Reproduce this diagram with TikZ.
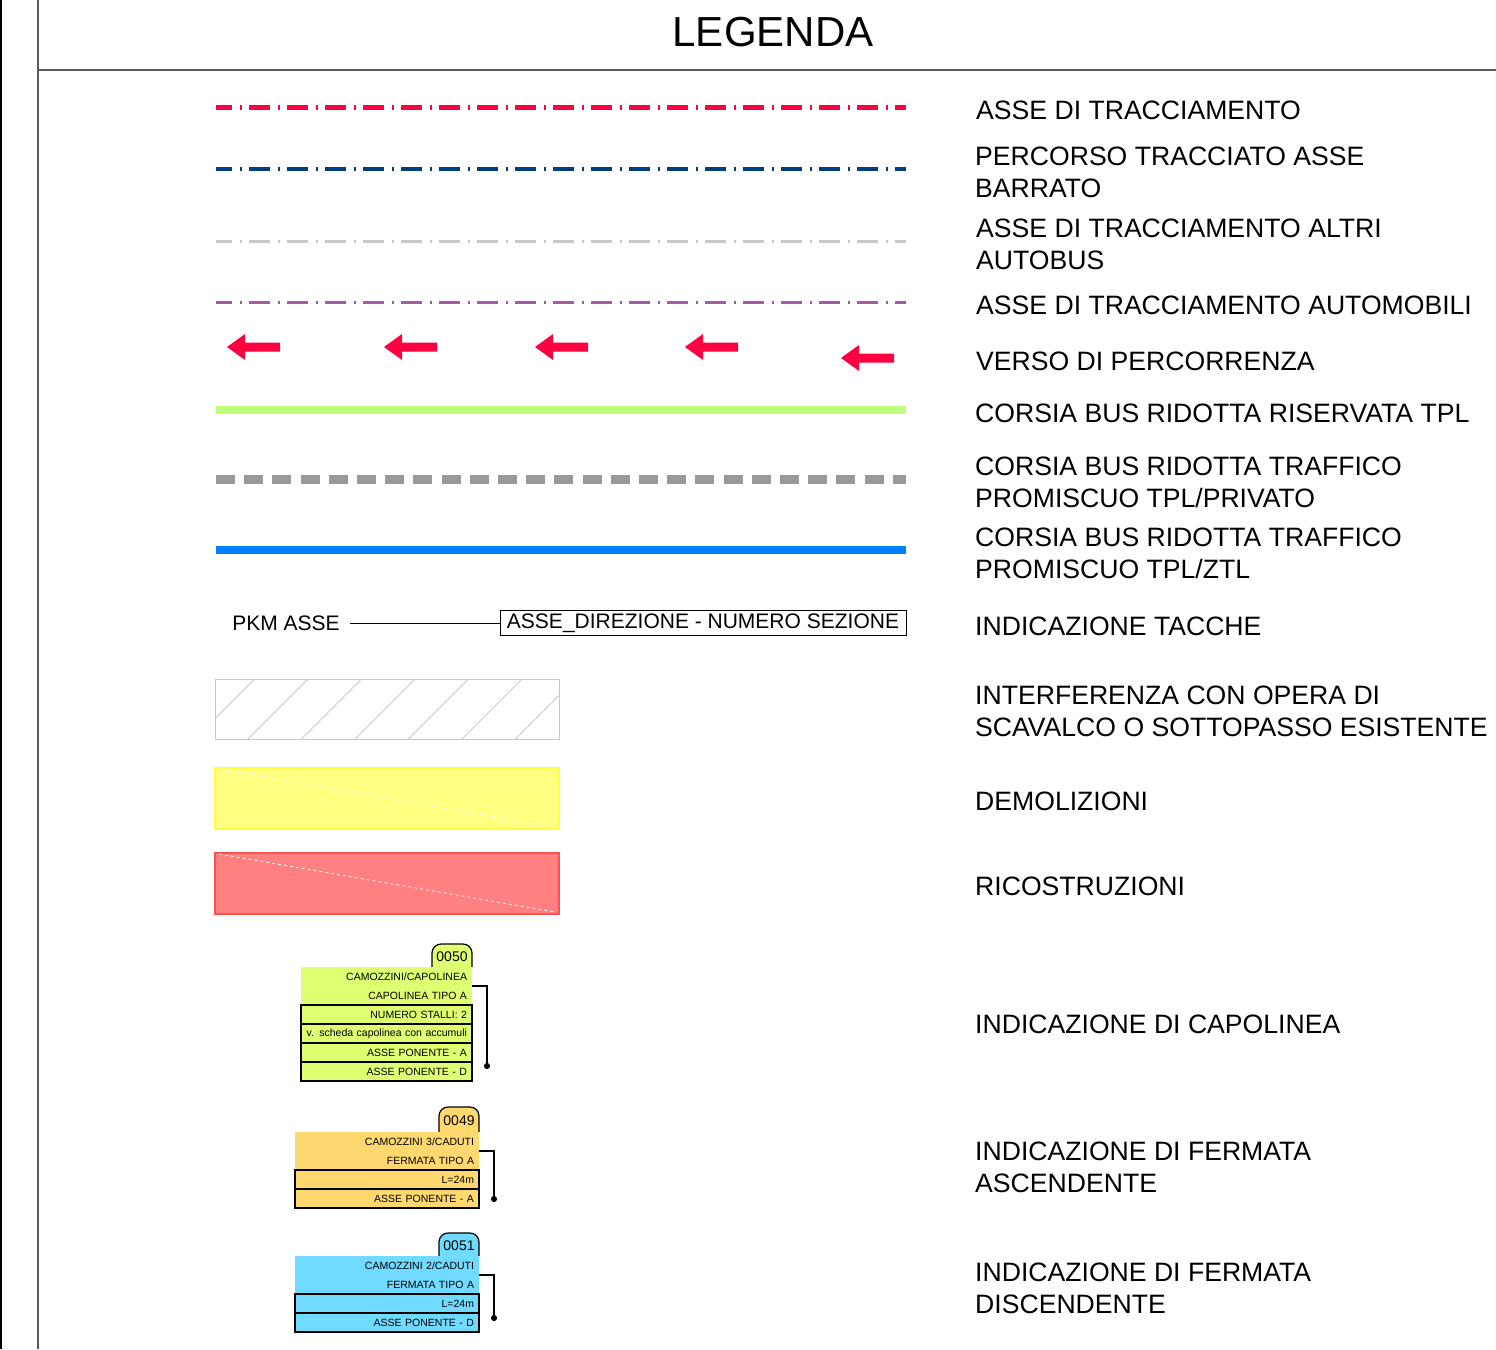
\documentclass[tikz,border=0pt]{standalone}
\usepackage{fontspec}
\setmainfont{Liberation Sans}
\usetikzlibrary{arrows.meta, positioning}

\definecolor{rossoasse}{RGB}{255,0,64}
\definecolor{bluasse}{RGB}{0,63,127}
\definecolor{grigioasse}{RGB}{200,200,200}
\definecolor{violaasse}{RGB}{165,90,165}
\definecolor{verdetpl}{RGB}{191,255,127}
\definecolor{grigiotpl}{RGB}{153,153,153}
\definecolor{blutpl}{RGB}{0,127,255}
\definecolor{giallodem}{RGB}{255,255,128}
\definecolor{giallobordo}{RGB}{255,255,64}
\definecolor{rossoric}{RGB}{255,128,128}
\definecolor{rossobordo}{RGB}{255,80,80}
\definecolor{limecap}{RGB}{223,255,115}
\definecolor{arancioasc}{RGB}{255,217,112}
\definecolor{azzurrodisc}{RGB}{112,218,255}

\begin{document}
\begin{tikzpicture}[x=1pt, y=-1pt,
    etichetta/.style={anchor=west, inner sep=0pt, align=left, font=\fontsize{26.6}{32}\selectfont},
    asse/.style={line width=#1, dash pattern=on 21pt off 8pt on 1.5pt off 7.5pt, dash phase=5pt},
    testa/.style 2 args={fill=#1, inner sep=0pt, inner xsep=5pt, outer sep=0pt, text width=#2,
        minimum height=38pt, align=right, anchor=north west, font=\fontsize{10.5}{19}\selectfont},
    riga/.style 2 args={draw, line width=1.2pt, fill=#1, inner sep=0pt, inner xsep=5pt, outer sep=0pt,
        text width=#2, minimum height=19pt, align=right, anchor=north west, font=\fontsize{10.5}{12}\selectfont},
    codice/.style={inner sep=0pt, font=\fontsize{14}{16}\selectfont},
    linguetta/.style={line width=1.2pt, fill=#1, rounded corners=9pt},
    richiamo/.style={line width=1.2pt, -{Circle[length=6pt]}}]

\useasboundingbox (0,0) rectangle (1496,1349);

\draw[line width=2.5pt] (1,0) -- (1,1349);
\draw[line width=1.3pt, black!65] (38,0) -- (38,1349);
\draw[line width=1.3pt, black!65] (38,70) -- (1496,70);
\node[font=\fontsize{42}{48}\selectfont, inner sep=0pt] (titolo) at (773,32) {LEGENDA};

% assi
\draw[asse=5pt, rossoasse] (216,107) -- (906,107);
\draw[asse=4pt, bluasse] (216,169) -- (906,169);
\draw[asse=3pt, grigioasse] (216,241) -- (906,241);
\draw[asse=3pt, violaasse] (216,302) -- (906,302);

% verso di percorrenza
\foreach \x/\y in {227/347, 384/347, 535/347, 685/347, 841/358}
    \fill[rossoasse] (\x,\y) -- ++(18,-13) -- ++(0,8.5) -- ++(35,0) -- ++(0,9)
        -- ++(-35,0) -- ++(0,8.5) -- cycle;

% corsie bus
\draw[line width=8pt, verdetpl] (216,410) -- (906,410);
\draw[line width=9pt, grigiotpl, dash pattern=on 19pt off 9.2pt] (216,479) -- (906,479);
\draw[line width=8pt, blutpl] (216,550) -- (906,550);

% tacche
\node[font=\fontsize{21}{24}\selectfont, inner sep=0pt] (pkm) at (286,623) {PKM ASSE};
\node[draw, line width=1pt, font=\fontsize{21}{24}\selectfont, minimum width=406pt, minimum height=25pt,
    inner sep=0pt] (sezione) at (703,623) {ASSE\_DIREZIONE - NUMERO SEZIONE};
\draw[line width=1pt, shorten <=10pt] (pkm) -- (sezione);

% interferenza, demolizioni, ricostruzioni
\draw[line width=1pt, grigioasse] (215,679) rectangle (559,739);
\begin{scope}
    \clip (215,679) rectangle (559,739);
    \foreach \x in {194.5,248,...,600}
        \draw[line width=1pt, grigioasse] (\x,739) -- ++(61,-61);
\end{scope}
\draw[line width=1.5pt, draw=giallobordo, fill=giallodem] (215,768) rectangle (559,829);
\draw[line width=0.8pt, white, dashed] (220,769) -- (553,827);
\draw[line width=1.5pt, draw=rossobordo, fill=rossoric] (215,853) rectangle (559,914);
\draw[line width=0.8pt, white, dashed] (219,854) -- (555,912);

% capolinea
\draw[linguetta=limecap] (432,967) -- (432,944) -- (472,944) -- (472,967);
\node[codice] (cod0050) at (452,957) {0050};
\node[testa={limecap}{161pt}] (capA) at (301,967) {CAMOZZINI/CAPOLINEA\\CAPOLINEA TIPO A};
\node[riga={limecap}{161pt}, below=0pt of capA] (capB) {NUMERO STALLI: 2};
\node[riga={limecap}{161pt}, below=0pt of capB] (capC) {v. scheda capolinea con accumuli};
\node[riga={limecap}{161pt}, below=0pt of capC] (capD) {ASSE PONENTE - A};
\node[riga={limecap}{161pt}, below=0pt of capD] (capE) {ASSE PONENTE - D};
\coordinate (capPunto) at (487,1069);
\draw[richiamo] (capA.east) -| (capPunto);

% fermata ascendente
\draw[linguetta=arancioasc] (439,1132) -- (439,1107) -- (479,1107) -- (479,1132);
\node[codice] (cod0049) at (459,1121) {0049};
\node[testa={arancioasc}{174pt}] (ascA) at (295,1132) {CAMOZZINI 3/CADUTI\\FERMATA TIPO A};
\node[riga={arancioasc}{174pt}, below=0pt of ascA] (ascB) {L=24m};
\node[riga={arancioasc}{174pt}, below=0pt of ascB] (ascC) {ASSE PONENTE - A};
\coordinate (ascPunto) at (494,1202);
\draw[richiamo] (ascA.east) -| (ascPunto);

% fermata discendente
\draw[linguetta=azzurrodisc] (439,1256) -- (439,1233) -- (479,1233) -- (479,1256);
\node[codice] (cod0051) at (459,1246) {0051};
\node[testa={azzurrodisc}{174pt}] (discA) at (295,1256) {CAMOZZINI 2/CADUTI\\FERMATA TIPO A};
\node[riga={azzurrodisc}{174pt}, below=0pt of discA] (discB) {L=24m};
\node[riga={azzurrodisc}{174pt}, below=0pt of discB] (discC) {ASSE PONENTE - D};
\coordinate (discPunto) at (494,1321);
\draw[richiamo] (discA.east) -| (discPunto);

% etichette
\node[etichetta] (lAsse) at (976,110) {ASSE DI TRACCIAMENTO};
\node[etichetta] (lBarrato) at (975,172) {PERCORSO TRACCIATO ASSE\\BARRATO};
\node[etichetta] (lAltri) at (976,244) {ASSE DI TRACCIAMENTO ALTRI\\AUTOBUS};
\node[etichetta] (lAuto) at (976,305) {ASSE DI TRACCIAMENTO AUTOMOBILI};
\node[etichetta] (lVerso) at (976,361) {VERSO DI PERCORRENZA};
\node[etichetta] (lRiservata) at (975,413) {CORSIA BUS RIDOTTA RISERVATA TPL};
\node[etichetta] (lPrivato) at (975,482) {CORSIA BUS RIDOTTA TRAFFICO\\PROMISCUO TPL/PRIVATO};
\node[etichetta] (lZtl) at (975,553.5) {CORSIA BUS RIDOTTA TRAFFICO\\PROMISCUO TPL/ZTL};
\node[etichetta] (lTacche) at (975,626) {INDICAZIONE TACCHE};
\node[etichetta] (lInterf) at (975,711.5) {INTERFERENZA CON OPERA DI\\SCAVALCO O SOTTOPASSO ESISTENTE};
\node[etichetta] (lDemol) at (975,801) {DEMOLIZIONI};
\node[etichetta] (lRicos) at (975,886) {RICOSTRUZIONI};
\node[etichetta] (lCapo) at (975,1024) {INDICAZIONE DI CAPOLINEA};
\node[etichetta] (lAsc) at (975,1167) {INDICAZIONE DI FERMATA\\ASCENDENTE};
\node[etichetta] (lDisc) at (975,1288) {INDICAZIONE DI FERMATA\\DISCENDENTE};
\end{tikzpicture}
\end{document}
